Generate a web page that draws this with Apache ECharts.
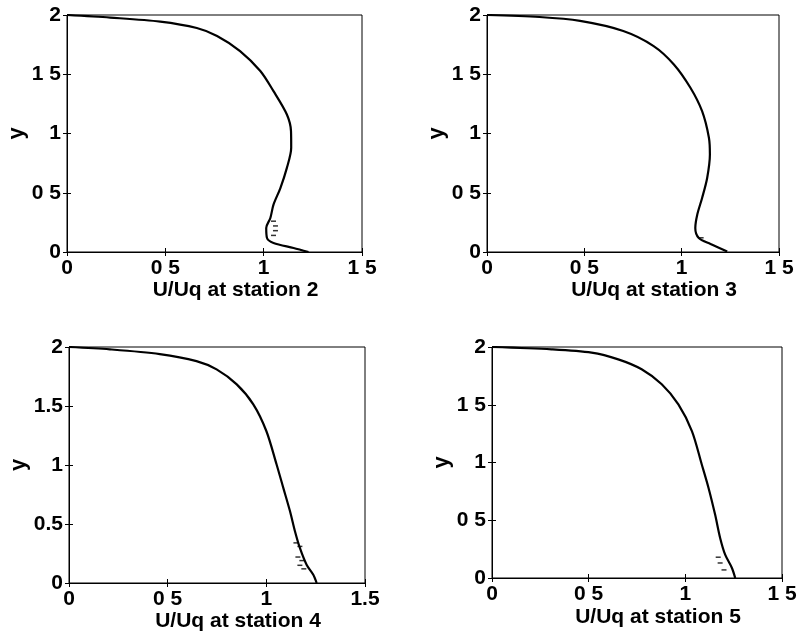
<!DOCTYPE html>
<html><head><meta charset="utf-8">
<script src="https://cdn.jsdelivr.net/npm/echarts@6/dist/echarts.min.js"></script>
<style>html,body{margin:0;padding:0;background:#fff}#c{width:804px;height:639px}</style>
</head><body><div id="c"></div>
<script>
// Station titles
const stationNames = ["U/Uq at station 2", "U/Uq at station 3", "U/Uq at station 4", "U/Uq at station 5"];
// Tick labels as printed (scan shows missing decimal points on some)
const xTickLabels = [
  ["0", "0 5", "1", "1 5"],
  ["0", "0 5", "1", "1 5"],
  ["0", "0 5", "1", "1.5"],
  ["0", "0 5", "1", "1 5"]
];
const yTickLabels = [
  ["0", "0 5", "1", "1 5", "2"],
  ["0", "0 5", "1", "1 5", "2"],
  ["0", "0.5", "1", "1.5", "2"],
  ["0", "0 5", "1", "1 5", "2"]
];
// Velocity profiles: [U/Uq, y]
const station2 = [[0,2],[0.22,1.978],[0.474,1.944],[0.66,1.89],[0.763,1.823],[0.88,1.696],[0.983,1.527],[1.05,1.357],[1.118,1.16],[1.139,1.02],[1.14,0.88],[1.118,0.71],[1.085,0.54],[1.05,0.40],[1.034,0.287],[1.013,0.203],[1.017,0.118],[1.05,0.076],[1.152,0.034],[1.228,0]];
const station3 = [[0,2],[0.27,1.983],[0.478,1.95],[0.70,1.865],[0.856,1.738],[0.96,1.583],[1.045,1.386],[1.105,1.188],[1.14,0.964],[1.145,0.822],[1.131,0.625],[1.105,0.456],[1.08,0.315],[1.07,0.203],[1.088,0.118],[1.148,0.068],[1.234,0.005]];
const station4 = [[0,2],[0.207,1.98],[0.46,1.94],[0.646,1.88],[0.748,1.81],[0.85,1.683],[0.934,1.514],[1.0,1.288],[1.052,1.004],[1.086,0.806],[1.12,0.608],[1.145,0.439],[1.17,0.297],[1.204,0.155],[1.238,0.07],[1.255,0]];
const station5 = [[0,2],[0.308,1.98],[0.515,1.951],[0.653,1.893],[0.774,1.807],[0.878,1.677],[0.964,1.503],[1.034,1.272],[1.085,0.983],[1.12,0.78],[1.154,0.549],[1.18,0.347],[1.206,0.202],[1.241,0.087],[1.258,0]];
// Experimental marks near the wall
const marks2 = [[1.05,0.26],[1.06,0.22],[1.06,0.18],[1.05,0.14]];
const marks3 = [[1.1,0.12]];
const marks4 = [[1.15,0.34],[1.17,0.31],[1.16,0.22],[1.18,0.19],[1.17,0.15],[1.19,0.12]];
const marks5 = [[1.17,0.18],[1.18,0.13],[1.2,0.07]];

const profiles = [station2, station3, station4, station5];
const marks = [marks2, marks3, marks4, marks5];
const grids = [
  {left: 67, top: 15, width: 295, height: 237},
  {left: 487, top: 15, width: 292, height: 237},
  {left: 69, top: 347, width: 296, height: 236},
  {left: 492, top: 347, width: 290, height: 231}
];
const yNameGaps = [38, 34, 33, 34];
const xNameGaps = [27, 27, 26, 29];
const font = "'Liberation Sans', Arial, sans-serif";
const col = '#000';
const option = {
  backgroundColor: '#fff',
  animation: false,
  grid: grids.map(g => Object.assign({show: true, borderColor: col, borderWidth: 1, backgroundColor: 'transparent'}, g)),
  xAxis: [], yAxis: [], series: []
};
for (let i = 0; i < 4; i++) {
  const xl = xTickLabels[i], yl = yTickLabels[i];
  option.xAxis.push({
    type: 'value', gridIndex: i, min: 0, max: 1.5, interval: 0.5,
    name: stationNames[i], nameLocation: 'middle', nameGap: xNameGaps[i],
    nameTextStyle: {fontFamily: font, fontSize: 21, fontWeight: 'bold', color: col, padding: [0, 0, 0, 42]},
    axisLine: {show: true, lineStyle: {color: col, width: 1}},
    axisTick: {show: true, inside: true, length: 4, lineStyle: {color: col}},
    axisLabel: {fontFamily: font, fontSize: 21, fontWeight: 'bold', color: col, margin: 6,
      formatter: v => xl[Math.round(v / 0.5)]},
    splitLine: {show: false}
  });
  option.xAxis.push({
    type: 'value', gridIndex: i, min: 0, max: 1.5, interval: 0.5, position: 'top',
    axisLine: {show: true, lineStyle: {color: col, width: 1}},
    axisTick: {show: true, inside: true, length: 4, lineStyle: {color: col}},
    axisLabel: {show: false}, splitLine: {show: false}
  });
  option.yAxis.push({
    type: 'value', gridIndex: i, min: 0, max: 2, interval: 0.5,
    name: 'y', nameLocation: 'middle', nameGap: yNameGaps[i], nameRotate: 90,
    nameTextStyle: {fontFamily: font, fontSize: 22, fontWeight: 'bold', color: col},
    axisLine: {show: true, lineStyle: {color: col, width: 1}},
    axisTick: {show: true, inside: true, length: 4, lineStyle: {color: col}},
    axisLabel: {fontFamily: font, fontSize: 21, fontWeight: 'bold', color: col, margin: 6,
      formatter: v => yl[Math.round(v / 0.5)]},
    splitLine: {show: false}
  });
  option.yAxis.push({
    type: 'value', gridIndex: i, min: 0, max: 2, interval: 0.5, position: 'right',
    axisLine: {show: true, lineStyle: {color: col, width: 1}},
    axisTick: {show: true, inside: true, length: 4, lineStyle: {color: col}},
    axisLabel: {show: false}, splitLine: {show: false}
  });
  option.series.push({
    type: 'line', xAxisIndex: 2 * i, yAxisIndex: 2 * i, data: profiles[i],
    smooth: 0.3, showSymbol: false, lineStyle: {color: col, width: 2.2}
  });
  option.series.push({
    type: 'scatter', xAxisIndex: 2 * i, yAxisIndex: 2 * i, data: marks[i],
    symbol: 'rect', symbolSize: [5, 1.5], itemStyle: {color: col}
  });
}
const chart = echarts.init(document.getElementById('c'), null, {renderer: 'canvas'});
chart.setOption(option);
</script></body></html>
